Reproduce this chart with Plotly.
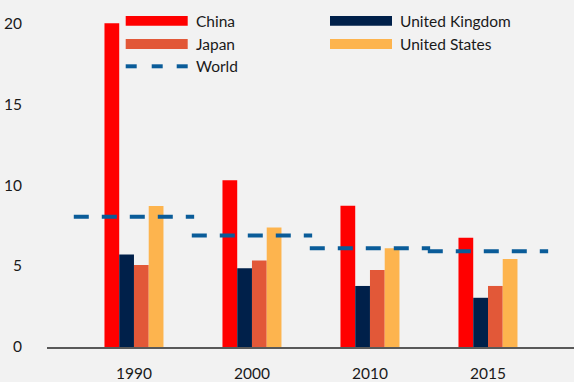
import plotly.graph_objects as go

years = ["1990", "2000", "2010", "2015"]
china = [20.0, 10.3, 8.73, 6.75]
uk = [5.71, 4.86, 3.77, 3.04]
japan = [5.06, 5.35, 4.75, 3.77]
usa = [8.71, 7.38, 6.10, 5.44]
world = [8.04, 6.89, 6.10, 5.91]

C_CHINA = "#FF0000"
C_UK = "#00204A"
C_JAPAN = "#E25838"
C_US = "#FDB44E"
C_WORLD = "#0A5C99"
FONT = "Lato"

xpos = list(range(len(years)))

fig = go.Figure()
for name, vals, col in [("China", china, C_CHINA), ("United Kingdom", uk, C_UK),
                        ("Japan", japan, C_JAPAN), ("United States", usa, C_US)]:
    fig.add_trace(go.Bar(x=xpos, y=vals, name=name, marker=dict(color=col, line=dict(width=0)),
                         showlegend=False))

wx, wy = [], []
for i, v in enumerate(world):
    wx += [i - 0.51, i + 0.51, None]
    wy += [v, v, None]
fig.add_trace(go.Scatter(x=wx, y=wy, mode="lines", name="World", showlegend=False,
                         line=dict(color=C_WORLD, width=4, dash="15px,13px")))

# plot area in pixels
L, R, T, B = 47, 574, 7, 351
W, H = 574, 382


def px(x):
    return (x - L) / (R - L)


def py(y):
    return (B - y) / (B - T)


shapes = []
annotations = []
legend_items = [
    ("China", C_CHINA, 125.7, 21, "bar"),
    ("Japan", C_JAPAN, 125.7, 44.5, "bar"),
    ("World", C_WORLD, 125.7, 67, "dash"),
    ("United Kingdom", C_UK, 330, 21, "bar"),
    ("United States", C_US, 330, 44.5, "bar"),
]
for label, col, x0, yc, kind in legend_items:
    if kind == "bar":
        shapes.append(dict(type="rect", xref="paper", yref="paper",
                           x0=px(x0), x1=px(x0 + 62), y0=py(yc + 5), y1=py(yc - 5),
                           fillcolor=col, line=dict(width=0)))
    else:
        for d0 in (0, 26, 51):
            shapes.append(dict(type="line", xref="paper", yref="paper",
                               x0=px(x0 + d0), x1=px(x0 + d0 + 11), y0=py(yc), y1=py(yc),
                               line=dict(color=col, width=4)))
    annotations.append(dict(text=label, xref="paper", yref="paper", x=px(x0 + 68), y=py(yc),
                            xanchor="left", yanchor="middle", showarrow=False,
                            font=dict(family=FONT, size=15.5, color="#1A1A1A")))

fig.update_layout(
    width=W, height=H,
    margin=dict(l=L, r=W - R, t=T, b=H - B),
    paper_bgcolor="#F2F2F2", plot_bgcolor="#F2F2F2",
    barmode="group", bargap=0.5, bargroupgap=0,
    showlegend=False,
    shapes=shapes, annotations=annotations,
    font=dict(family=FONT, size=15, color="#1A1A1A"),
    xaxis=dict(range=[-0.737, 3.729], tickvals=xpos, ticktext=years, showgrid=False,
               zeroline=False, showline=True, linecolor="#595959", linewidth=1.5,
               ticks="", ticklabelstandoff=12, tickfont=dict(size=15.5)),
    yaxis=dict(range=[0, 21], tickvals=[0, 5, 10, 15, 20], showgrid=False, zeroline=False,
               showline=False, ticks="", ticklabelstandoff=24, tickfont=dict(size=15.5)),
)

fig.write_html("out.html", config={"displayModeBar": False},
               post_script="document.body.style.margin='0';document.body.style.padding='0';")
